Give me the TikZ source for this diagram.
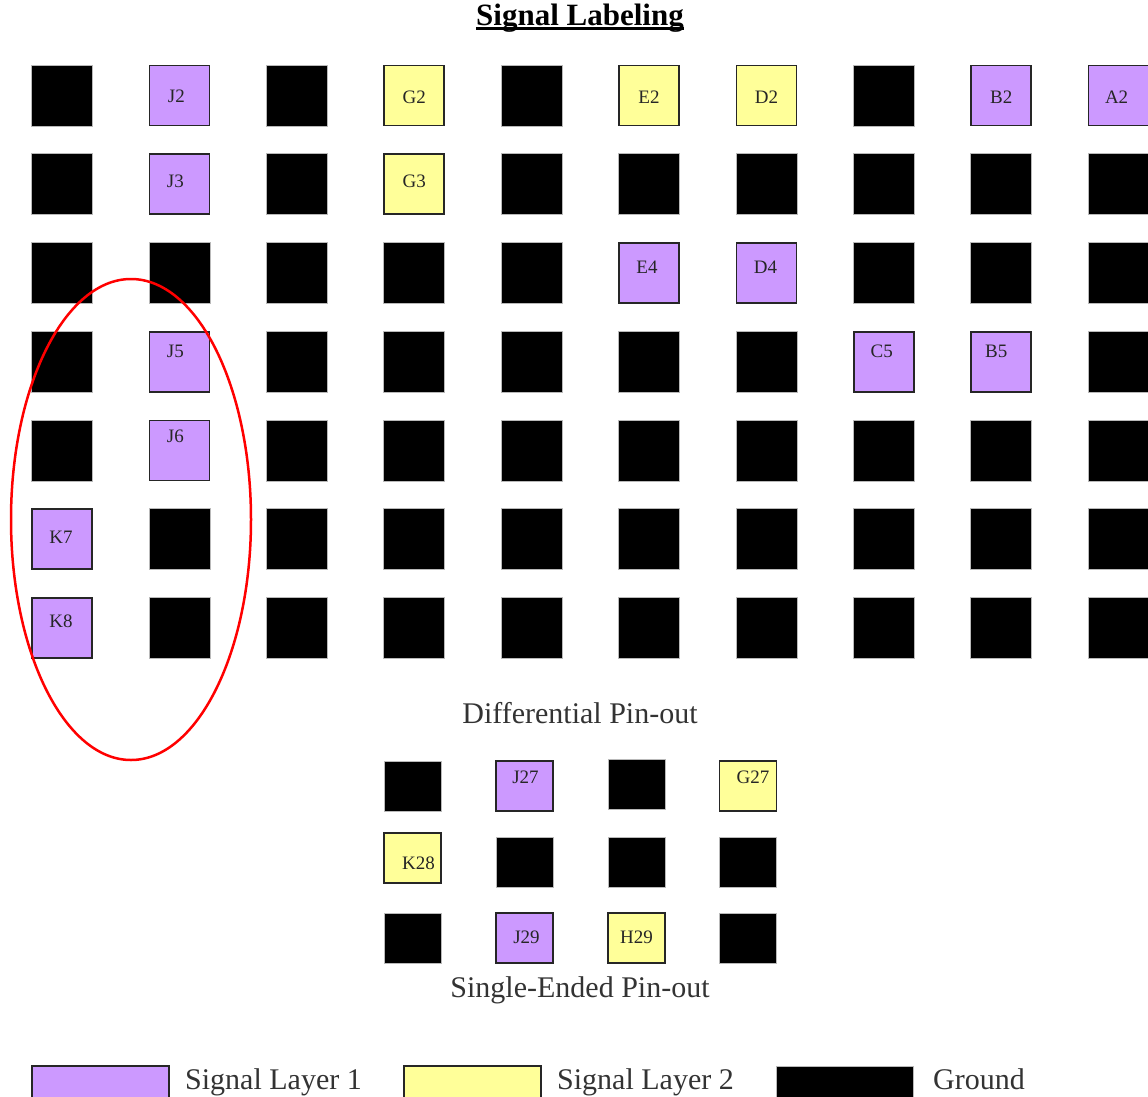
\documentclass[tikz,border=0pt]{standalone}
\usepackage{fontspec}
\setmainfont{Liberation Serif}
\usepackage{tikz}
\usepackage[dvipsnames]{xcolor}
\usetikzlibrary{positioning, calc}
\definecolor{layerone}{RGB}{204,153,255}
\definecolor{layertwo}{RGB}{255,255,153}

\begin{document}
\begin{tikzpicture}[x=1pt, y=-1pt,
  pad/.style={draw, minimum width=60pt, minimum height=60pt, inner sep=0pt, outer sep=0pt},
  gnd/.style={pad, fill=black, draw=gray!55, line width=0.8pt, minimum width=61pt, minimum height=61pt},
  sigone/.style={pad, fill=layerone, draw=black!85, line width=1.6pt},
  sigtwo/.style={pad, fill=layertwo, draw=black!85, line width=1.6pt},
  sepad/.style={minimum width=57pt, minimum height=50pt},
  legbox/.style={minimum width=137pt, minimum height=36pt, anchor=north west},
  pinlbl/.style={font=\fontsize{19}{20}\selectfont, inner sep=0pt, text=black!85},
  caption/.style={font=\fontsize{30}{32}\selectfont, inner sep=0pt, text=black!80}]
  \useasboundingbox (0,0) rectangle (1148,1097);

  \node[font=\bfseries\fontsize{31}{32}\selectfont, inner sep=0pt, anchor=base] (title) at (580,26) {Signal Labeling};
  \draw[line width=3pt] ([yshift=-3pt]title.base west) -- ([yshift=-3pt]title.base east);

  % pin di massa
  \foreach \r/\cols in {1/{1,3,5,8}, 2/{1,3,5,6,7,8,9,10}, 3/{1,2,3,4,5,8,9,10},
      4/{1,3,4,5,6,7,10}, 5/{1,3,4,5,6,7,8,9,10}, 6/{2,3,4,5,6,7,8,9,10}, 7/{2,3,4,5,6,7,8,9,10}}
    \foreach \c in \cols
      \node[gnd] (g\r-\c) at ({62+117.4*(\c-1)}, {95.5+88.75*(\r-1)}) {};

  \foreach \n/\r/\c/\dx/\dy in {J2/1/2/-3/1, B2/1/9/0/2, A2/1/10/-2/2, J3/2/2/-4/-3,
      E4/3/6/-2/-6, D4/3/7/-1/-6, J5/4/2/-4/-10, C5/4/8/-2/-10, B5/4/9/-5/-10,
      J6/5/2/-4/-14, K7/6/1/-1/-2, K8/7/1/-1/-7}
  {
    \node[sigone] (\n) at ({62+117.4*(\c-1)}, {95.5+88.75*(\r-1)}) {};
    \node[pinlbl] at ([shift={(\dx,\dy)}]\n.center) {\n};
  }
  \foreach \n/\r/\c/\dx/\dy in {G2/1/4/0/2, E2/1/6/0/2, D2/1/7/0/2, G3/2/4/0/-3}
  {
    \node[sigtwo] (\n) at ({62+117.4*(\c-1)}, {95.5+88.75*(\r-1)}) {};
    \node[pinlbl] at ([shift={(\dx,\dy)}]\n.center) {\n};
  }

  \node[caption, anchor=base] (diffcap) at (580,723) {Differential Pin-out};

  \foreach \x/\y [count=\i] in {412.5/786, 636.5/784, 524.5/862, 636.5/862, 748/862, 412.5/938, 748/938}
    \node[gnd, sepad] (se\i) at (\x,\y) {};
  \foreach \n/\x/\y/\dx/\dy in {J27/524.5/786/1/-9, J29/524.5/938/2/-1}
  {
    \node[sigone, sepad] (\n) at (\x,\y) {};
    \node[pinlbl] at ([shift={(\dx,\dy)}]\n.center) {\n};
  }
  \foreach \n/\x/\y/\dx/\dy in {G27/748/786/5/-9, K28/412.5/858/6/5, H29/636.5/938/0/-1}
  {
    \node[sigtwo, sepad] (\n) at (\x,\y) {};
    \node[pinlbl] at ([shift={(\dx,\dy)}]\n.center) {\n};
  }

  \node[caption, anchor=base] (secap) at (580,997) {Single-Ended Pin-out};

  % legenda
  \node[sigone, legbox] (legone) at (32,1066) {};
  \node[caption, right=16pt of legone, anchor=base west, yshift=-5pt] (legonetxt) {Signal Layer 1};
  \node[sigtwo, legbox] (legtwo) at (404,1066) {};
  \node[caption, right=16pt of legtwo, anchor=base west, yshift=-5pt] (legtwotxt) {Signal Layer 2};
  \node[gnd, legbox] (leggnd) at (776,1066) {};
  \node[caption, right=20pt of leggnd, anchor=base west, yshift=-5pt] (leggndtxt) {Ground};

  \draw[red, line width=2.5pt] (131,519.5) ellipse [x radius=120, y radius=240.5];
\end{tikzpicture}
\end{document}
